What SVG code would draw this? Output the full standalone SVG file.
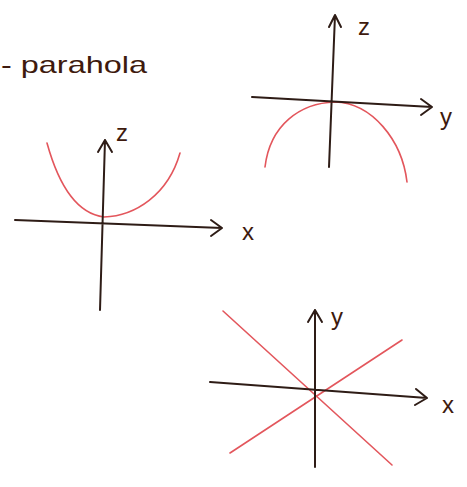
<svg xmlns="http://www.w3.org/2000/svg" width="467" height="487" viewBox="0 0 467 487">
<style>
.ax{fill:none;stroke:#2e1c16;stroke-width:2;stroke-linecap:round;stroke-linejoin:round}
.cv{fill:none;stroke:#e3565c;stroke-width:1.6;stroke-linecap:round}
.lb{font-family:"Liberation Sans",Arial,sans-serif;fill:#3e1a0e;font-size:24px}
</style>
<rect width="467" height="487" fill="#ffffff"/>
<g id="title"><text class="lb" x="1" y="73" textLength="146" lengthAdjust="spacingAndGlyphs">- parahola</text></g>
<g id="graph-xz">
<path class="cv" d="M47,143 C60,190 80,214 104,217 C135,216 168,195 180,153"/>
<path class="ax" d="M100,310 L105,140 M98,152 L105,140 L112,152 M15,220 L222,228 M211,220 L222,228 L211,236"/>
<text class="lb" x="116" y="141">z</text>
<text class="lb" x="242" y="240">x</text>
</g>
<g id="graph-yz">
<path class="cv" d="M265,167 C270,125 300,103 335,102 C372,103 402,140 407,182"/>
<path class="ax" d="M329,167 L335,15 M329,27 L335,15 L341,27 M252,97 L432,107 M421,99 L432,107 L421,115"/>
<text class="lb" x="358" y="35">z</text>
<text class="lb" x="440" y="125">y</text>
</g>
<g id="graph-xy">
<path class="cv" d="M223,311 L392,465 M230,453 L402,340"/>
<path class="ax" d="M315,467 L315,310 M308,322 L315,310 L322,322 M210,382 L427,398 M416,389 L427,398 L415,405"/>
<text class="lb" x="331" y="325">y</text>
<text class="lb" x="442" y="413">x</text>
</g>
</svg>
